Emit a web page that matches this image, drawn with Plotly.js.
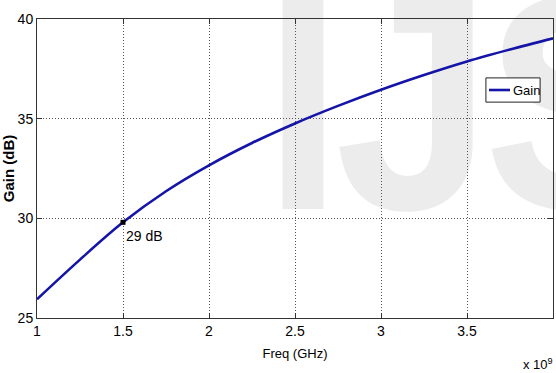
<!DOCTYPE html>
<html>
<head>
<meta charset="utf-8">
<script src="https://cdn.plot.ly/plotly-3.0.1.min.js"></script>
<style>
html,body{margin:0;padding:0;background:#fff;}
#wrap{position:relative;width:556px;height:373px;overflow:hidden;background:#fff;}
#wm{position:absolute;left:263px;top:-42px;font-family:'Liberation Sans',Arial,sans-serif;font-size:288px;line-height:288px;color:#ececec;-webkit-text-stroke:14px #ececec;white-space:nowrap;z-index:0;}
#chart{position:absolute;left:0;top:0;width:556px;height:373px;z-index:1;}
</style>
</head>
<body>
<div id="wrap">
<div id="wm">IJS</div>
<div id="chart"></div>
</div>
<script>
// Data (frequency in GHz, i.e. x 10^9 Hz)
const freq = [1, 1.25, 1.5, 1.75, 2, 2.25, 2.5, 2.75, 3, 3.25, 3.5, 3.75, 4];
const gain = [25.94, 27.93, 29.8, 31.36, 32.66, 33.78, 34.76, 35.64, 36.45, 37.19, 37.87, 38.47, 39.03];
const markFreq = [1.5];
const markGain = [29.8];
const markLabel = "29 dB";
const xTicks = [1, 1.5, 2, 2.5, 3, 3.5, 4];
const xTickText = ["1", "1.5", "2", "2.5", "3", "3.5", "4"];
const yTicks = [25, 30, 35, 40];
const yTickText = ["25", "30", "35", "40"];
const seriesName = "Gain";

const sans = "Liberation Sans";
const lineColor = "#1414a8";

const traces = [
  {
    x: freq, y: gain, type: "scatter", mode: "lines", name: seriesName,
    line: {color: lineColor, width: 2.6, shape: "spline", smoothing: 1},
    showlegend: false, hoverinfo: "skip"
  },
  {
    x: markFreq, y: markGain, type: "scatter", mode: "markers",
    marker: {color: "#000", size: 5, symbol: "square"},
    showlegend: false, hoverinfo: "skip"
  }
];

const axisCommon = {
  showline: true, linecolor: "#333", linewidth: 1, mirror: "ticks",
  ticks: "inside", ticklen: 5, tickcolor: "#333", tickwidth: 1,
  showgrid: true, gridcolor: "#555", griddash: "1px,2px", gridwidth: 1,
  zeroline: false, tickmode: "array",
  tickfont: {family: sans, size: 14, color: "#000"}
};

const layout = {
  width: 556, height: 373,
  margin: {l: 37, r: 3, t: 19, b: 55},
  paper_bgcolor: "rgba(0,0,0,0)", plot_bgcolor: "rgba(0,0,0,0)",
  showlegend: false,
  xaxis: Object.assign({}, axisCommon, {
    range: [1, 4], tickvals: xTicks, ticktext: xTickText,
    title: {text: "Freq (GHz)", font: {family: sans, size: 13, color: "#000"}, standoff: 11}
  }),
  yaxis: Object.assign({}, axisCommon, {
    range: [25, 40], tickvals: yTicks, ticktext: yTickText,
    title: {text: "Gain (dB)", font: {family: sans, size: 15, color: "#000", weight: "bold"}, standoff: 7}
  }),
  shapes: [
    {type: "rect", xref: "paper", yref: "paper", x0: 0.870, x1: 0.975, y0: 0.722, y1: 0.803,
     line: {color: "#222", width: 1}, fillcolor: "#fff", layer: "above"},
    {type: "line", xref: "paper", yref: "paper", x0: 0.876, x1: 0.9167, y0: 0.7625, y1: 0.7625,
     line: {color: lineColor, width: 2.6}, layer: "above"}
  ],
  annotations: [
    {text: markLabel, x: markFreq[0], y: markGain[0], xref: "x", yref: "y", showarrow: false,
     xanchor: "left", yanchor: "middle", xshift: 1, yshift: -14,
     font: {family: sans, size: 14, color: "#000"}},
    {text: seriesName, xref: "paper", yref: "paper", x: 0.9186, y: 0.7625, xanchor: "left", yanchor: "middle",
     showarrow: false, font: {family: sans, size: 13, color: "#000"}},
    {text: "x 10<sup>9</sup>", xref: "paper", yref: "paper", x: 1.004, y: -0.155, xanchor: "right", yanchor: "middle",
     showarrow: false, font: {family: sans, size: 13, color: "#000"}}
  ]
};

Plotly.newPlot("chart", traces, layout, {displayModeBar: false, staticPlot: true});
</script>
</body>
</html>
